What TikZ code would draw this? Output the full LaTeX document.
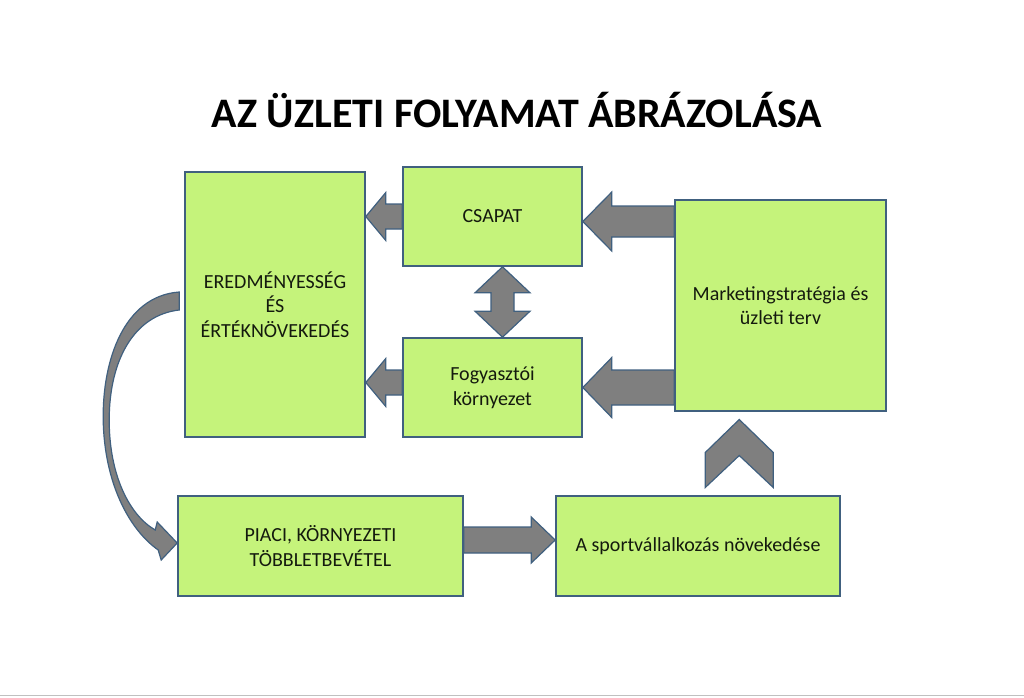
\documentclass[tikz,border=0pt]{standalone}
\usepackage{fontspec}
\setmainfont{Carlito}
\usetikzlibrary{calc}
\definecolor{boxfill}{HTML}{C5F37B}
\definecolor{boxline}{HTML}{40607F}
\definecolor{arrowfill}{HTML}{7F7F7F}
\definecolor{ink}{HTML}{141A0E}
\definecolor{rule}{HTML}{C0C0C0}
\tikzset{
  box/.style={draw=boxline, fill=boxfill, line width=1.6pt, inner sep=0pt, align=center, text=ink, font=\fontsize{20}{24.5}\selectfont},
  barrow/.style={fill=arrowfill, draw=boxline, line width=1.2pt, line join=miter},
  title/.style={font=\fontsize{42}{48}\selectfont\bfseries, text=black}
}
% block arrow: from, to, shaft half width, head half width, head length
\newcommand\blockarrow[5]{%
  \path ($(#2)!#5!(#1)$) coordinate (hb);
  \draw[barrow] ($(#1)!#3!90:(#2)$) -- ($(hb)!#3!90:(#2)$) -- ($(hb)!#4!90:(#2)$) -- (#2)
    -- ($(hb)!#4!-90:(#2)$) -- ($(hb)!#3!-90:(#2)$) -- ($(#1)!#3!-90:(#2)$) -- cycle;
}
\newcommand\dblarrow[5]{%
  \path ($(#1)!#5!(#2)$) coordinate (ha) ($(#2)!#5!(#1)$) coordinate (hb);
  \draw[barrow] (#1) -- ($(ha)!#4!90:(#2)$) -- ($(ha)!#3!90:(#2)$) -- ($(hb)!#3!-90:(#1)$)
    -- ($(hb)!#4!-90:(#1)$) -- (#2) -- ($(hb)!#4!90:(#1)$) -- ($(hb)!#3!90:(#1)$)
    -- ($(ha)!#3!-90:(#2)$) -- ($(ha)!#4!-90:(#2)$) -- cycle;
}

\begin{document}
\begin{tikzpicture}[x=1pt, y=-1pt]
  \useasboundingbox (0,0) rectangle (1024,697);
  \draw[rule, line width=1.5pt] (0,695.5) -- (1024,695.5);

  \node[title] (ttl) at (517,110) {AZ ÜZLETI FOLYAMAT ÁBRÁZOLÁSA};

  \node[box, minimum width=180pt, minimum height=265pt] (ered) at (275,304.5) {EREDMÉNYESSÉG\\ÉS\\ÉRTÉKNÖVEKEDÉS};
  \node[box, minimum width=179pt, minimum height=99pt] (csapat) at (492.5,216.5) {CSAPAT};
  \node[box, minimum width=179pt, minimum height=99pt] (fogy) at (492.5,387.5) {Fogyasztói\\környezet};
  \node[box, minimum width=211pt, minimum height=211pt] (mark) at (780.5,305.5) {Marketingstratégia és\\üzleti terv};
  \node[box, minimum width=285pt, minimum height=100pt] (piaci) at (320.5,546) {PIACI, KÖRNYEZETI\\TÖBBLETBEVÉTEL};
  \node[box, minimum width=284pt, minimum height=100pt] (sport) at (698,546) {A sportvállalkozás növekedése};

  \coordinate (c0) at (csapat.west);
  \coordinate (c1) at (ered.east |- c0);
  \coordinate (f0) at ([yshift=5pt]fogy.west);
  \coordinate (f1) at (ered.east |- f0);
  \coordinate (m1) at ([yshift=-5pt]csapat.east);
  \coordinate (m0) at (mark.west |- m1);
  \coordinate (n1) at (fogy.east);
  \coordinate (n0) at (mark.west |- n1);
  \coordinate (p0) at ([yshift=6pt]piaci.east);
  \coordinate (p1) at (sport.west |- p0);
  \coordinate (d0) at ([xshift=10pt]csapat.south);
  \coordinate (d1) at ([xshift=10pt]fogy.north);

  \blockarrow{c0}{c1}{12.5pt}{24pt}{20pt}
  \blockarrow{f0}{f1}{12.5pt}{24pt}{20pt}
  \blockarrow{m0}{m1}{15.5pt}{29.5pt}{29pt}
  \blockarrow{n0}{n1}{17.5pt}{30pt}{29pt}
  \blockarrow{p0}{p1}{13pt}{23pt}{24pt}
  \dblarrow{d0}{d1}{11.5pt}{27.5pt}{26pt}

  % chevron between growth and strategy
  \coordinate (up) at ($(sport.north)!0.5!(mark.south)$);
  \draw[barrow] ($(up)+(-34,34)$) -- ($(up)+(-34,-1)$) -- ($(up)+(0,-34)$) -- ($(up)+(34,-1)$)
    -- ($(up)+(34,34)$) -- ($(up)+(0,2)$) -- cycle;

  % curved arrow down the left side
  \draw[barrow] ($(ered.west)+(-5,-12.5)$)
    .. controls ($(ered.west)+(-60,-8.5)$) and ($(ered.west)+(-82,55.5)$) .. ($(ered.west)+(-81,115.5)$)
    .. controls ($(piaci.west)+(-73,-66)$) and ($(piaci.west)+(-50,-18)$) .. ($(piaci.west)+(-19,4)$)
    -- ($(piaci.west)+(-16,14)$) -- ($(piaci.west)+(0,-3)$) -- ($(piaci.west)+(-20,-24)$) -- ($(piaci.west)+(-22,-16)$)
    .. controls ($(piaci.west)+(-48,-31)$) and ($(piaci.west)+(-68,-71)$) .. ($(ered.west)+(-75,115.5)$)
    .. controls ($(ered.west)+(-75,55.5)$) and ($(ered.west)+(-50,10.5)$) .. ($(ered.west)+(-5,5.5)$) -- cycle;
\end{tikzpicture}
\end{document}
